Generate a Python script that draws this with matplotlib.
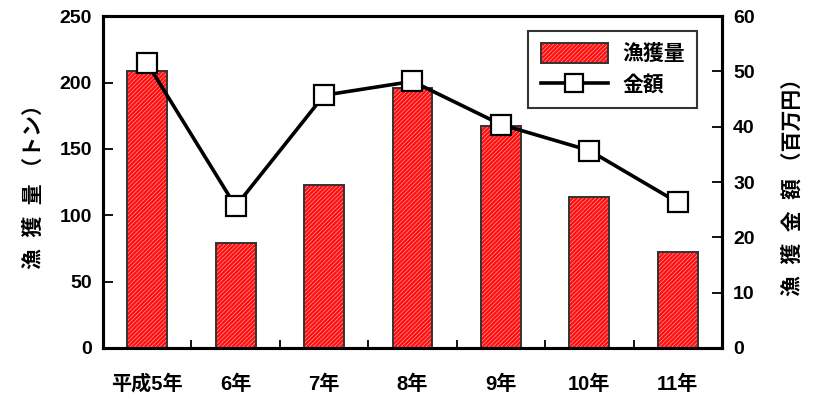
import matplotlib
matplotlib.use("Agg")
import matplotlib.pyplot as plt
import numpy as np
from matplotlib.patches import Patch
from matplotlib.lines import Line2D
from matplotlib.legend_handler import HandlerTuple

plt.rcParams['font.family'] = ['Liberation Sans', 'Noto Sans CJK JP']
plt.rcParams['font.weight'] = 'bold'
plt.rcParams['hatch.linewidth'] = 1.8

years = ['平成5年', '6年', '7年', '8年', '9年', '10年', '11年']
catch_tons = [209, 79, 123, 196, 167, 114, 72.5]
value_million_yen = [51.5, 25.6, 45.7, 48.2, 40.4, 35.7, 26.3]

fig = plt.figure(figsize=(8.14, 3.94), dpi=100)
ax = fig.add_axes([0.1265, 0.117, 0.7605, 0.842])
ax2 = ax.twinx()

x = np.arange(len(years))
bar_w = 0.45
hatch = '////////'
# hatched red fill, then a dark outline on top
ax.bar(x, catch_tons, width=bar_w, color='#ffe0e0', edgecolor='#ff1010',
       hatch=hatch, linewidth=0, zorder=2)
ax.bar(x, catch_tons, width=bar_w, fill=False, edgecolor='#333333',
       linewidth=1.4, zorder=3)

ax2.plot(x, value_million_yen, color='black', linewidth=2.6,
         marker='s', markersize=15, markerfacecolor='white',
         markeredgecolor='black', markeredgewidth=1.6, zorder=4)

ax.set_xlim(-0.5, len(years) - 0.5)
ax.set_ylim(0, 250)
ax2.set_ylim(0, 60)
ax.set_yticks(np.arange(0, 251, 50))
ax2.set_yticks(np.arange(0, 61, 10))

ax.set_xticks(x)
ax.set_xticklabels(years, fontsize=14.5, fontweight='bold')
ax.set_xticks(np.arange(0.5, len(years) - 1, 1), minor=True)
ax.tick_params(axis='x', which='major', length=0, pad=19)
ax.tick_params(axis='x', which='minor', direction='in', length=6, width=1.3)
ax.tick_params(axis='y', direction='in', length=7, width=1.3, labelsize=14, pad=8)
ax2.tick_params(axis='y', direction='in', length=7, width=1.3, labelsize=14, pad=8)
for lab in ax.get_yticklabels() + ax2.get_yticklabels():
    lab.set_fontweight('bold')

for a in (ax, ax2):
    for s in a.spines.values():
        s.set_linewidth(2.2)

ax.set_ylabel('漁  獲  量 （トン）', fontsize=15, fontweight='bold', labelpad=11)
ax2.set_ylabel('漁  獲  金  額 （百万円）', fontsize=15, fontweight='bold', labelpad=20)

h_bar = (Patch(facecolor='#ffe0e0', edgecolor='#ff1010', hatch=hatch, linewidth=0),
         Patch(fill=False, edgecolor='#333333', linewidth=1.4))
h_line = Line2D([], [], color='black', linewidth=2.6, marker='s', markersize=13,
                markerfacecolor='white', markeredgecolor='black', markeredgewidth=1.6)
leg = ax2.legend([h_bar, h_line], ['漁獲量', '金額'],
                 handler_map={tuple: HandlerTuple(ndivide=1, pad=0)},
                 loc='upper right', bbox_to_anchor=(0.977, 0.988),
                 fontsize=15, frameon=True, fancybox=False, edgecolor='black',
                 handlelength=3.2, handleheight=1.1, borderpad=0.6,
                 labelspacing=0.5, handletextpad=0.7)
leg.get_frame().set_linewidth(1.5)
for t in leg.get_texts():
    t.set_fontweight('bold')

fig.savefig('out.png', dpi=100)
